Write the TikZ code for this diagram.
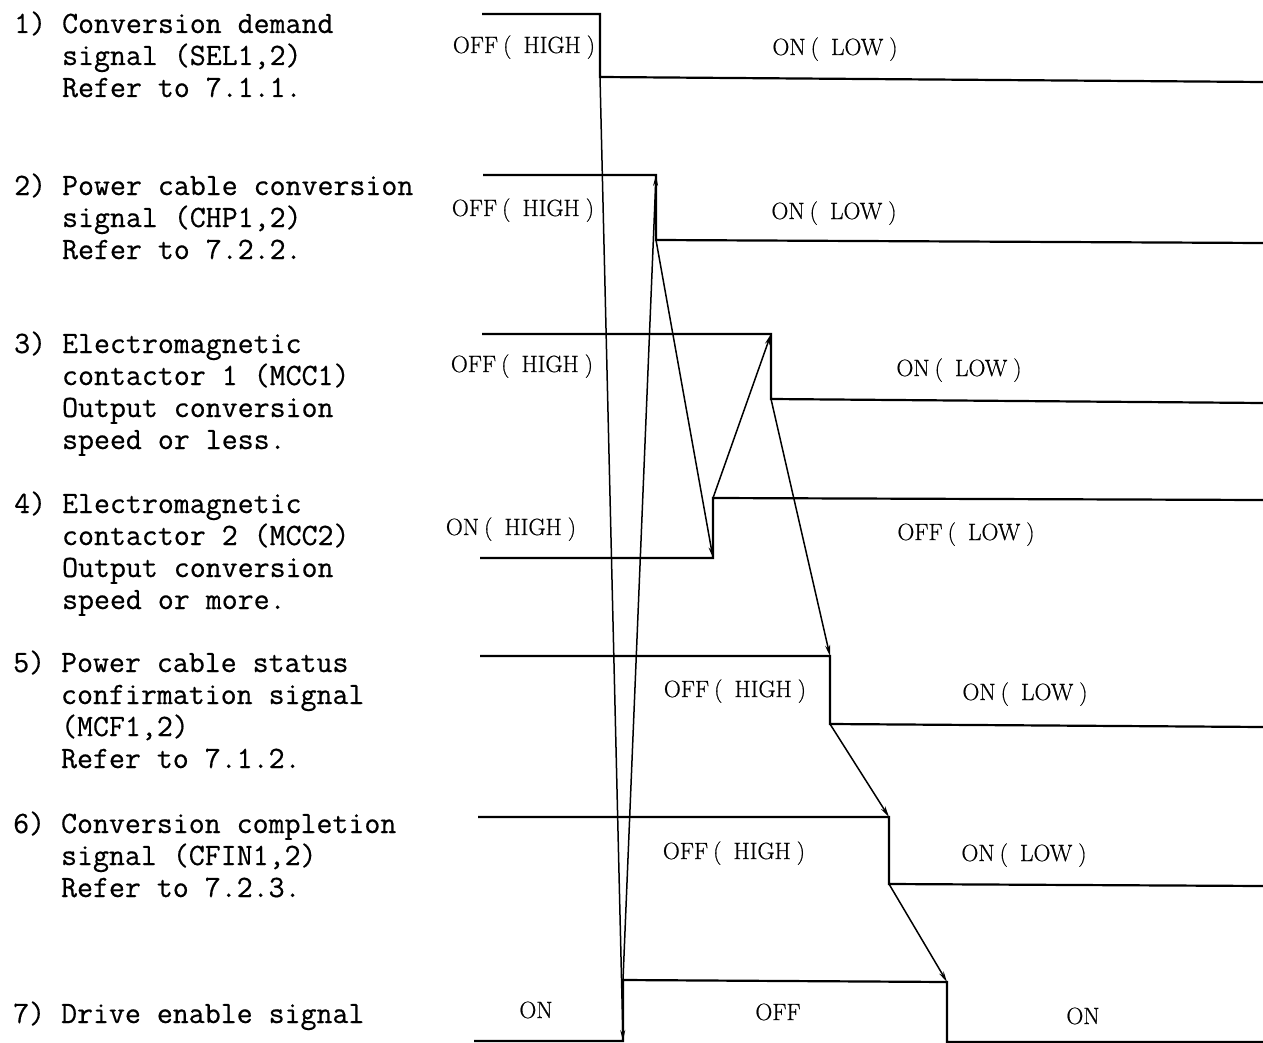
\documentclass[tikz,border=0pt]{standalone}
\usepackage{fontspec}
\usetikzlibrary{arrows.meta}
\newfontfamily\lbfont[FakeBold=0.6]{Latin Modern Roman}
\newfontfamily\twfont[FakeBold=0.5]{Latin Modern Mono}
\newcommand\LPx{\hspace{5pt}(\hspace{12pt}}
\newcommand\RPx{\hspace{6pt})}
\tikzset{
  wave/.style={line width=2.2pt, line join=miter, line cap=butt},
  cause/.style={line width=1.5pt, -{Stealth[length=11pt,width=5pt]}},
  desc/.style={anchor=base west, inner sep=0pt, align=left, font=\twfont\fontsize{31}{32}\selectfont},
  lab/.style={anchor=base, inner sep=0pt, font=\lbfont\fontsize{23.5}{28}\selectfont}
}
\begin{document}
\begin{tikzpicture}[x=1pt,y=-1pt]
\useasboundingbox (0,0) rectangle (1263,1043);
% ---------- descriptions (anchored at the baseline of the last line) ----------
\node[desc] (d1) at (14,97) {1) Conversion demand\\\hphantom{1) }signal (SEL1,2)\\\hphantom{1) }Refer to 7.1.1.};
\node[desc] (d2) at (14,259) {2) Power cable conversion\\\hphantom{1) }signal (CHP1,2)\\\hphantom{1) }Refer to 7.2.2.};
\node[desc] (d3) at (14,449) {3) Electromagnetic\\\hphantom{1) }contactor 1 (MCC1)\\\hphantom{1) }Output conversion\\\hphantom{1) }speed or less.};
\node[desc] (d4) at (14,609) {4) Electromagnetic\\\hphantom{1) }contactor 2 (MCC2)\\\hphantom{1) }Output conversion\\\hphantom{1) }speed or more.};
\node[desc] (d5) at (13,768) {5) Power cable status\\\hphantom{1) }confirmation signal\\\hphantom{1) }(MCF1,2)\\\hphantom{1) }Refer to 7.1.2.};
\node[desc] (d6) at (13,897) {6) Conversion completion\\\hphantom{1) }signal (CFIN1,2)\\\hphantom{1) }Refer to 7.2.3.};
\node[desc] (d7) at (13,1023) {7) Drive enable signal};
% ---------- waveform corners ----------
\coordinate (sel0) at (482,14);  \coordinate (sel1) at (600,14);
\coordinate (sel2) at (600,77);  \coordinate (sel3) at (1263,82);
\coordinate (chp0) at (483,175); \coordinate (chp1) at (656,175);
\coordinate (chp2) at (656,240); \coordinate (chp3) at (1263,243);
\coordinate (ma0) at (482,334);  \coordinate (ma1) at (771,334);
\coordinate (ma2) at (771,399);  \coordinate (ma3) at (1263,403);
\coordinate (mb0) at (480,558);  \coordinate (mb1) at (713,558);
\coordinate (mb2) at (713,498);  \coordinate (mb3) at (1263,500);
\coordinate (mcf0) at (480,656); \coordinate (mcf1) at (830,656);
\coordinate (mcf2) at (830,724); \coordinate (mcf3) at (1263,727);
\coordinate (cf0) at (478,817);  \coordinate (cf1) at (889,817);
\coordinate (cf2) at (889,884);  \coordinate (cf3) at (1263,886);
\coordinate (de0) at (474,1041); \coordinate (de1) at (623,1041);
\coordinate (de2) at (623,980);  \coordinate (de3) at (947,982);
\coordinate (de4) at (947,1042); \coordinate (de5) at (1263,1042);
% ---------- waveforms ----------
\draw[wave] (sel0) -- (sel1) -- (sel2) -- (sel3);
\draw[wave] (chp0) -- (chp1) -- (chp2) -- (chp3);
\draw[wave] (ma0) -- (ma1) -- (ma2) -- (ma3);
\draw[wave] (mb0) -- (mb1) -- (mb2) -- (mb3);
\draw[wave] (mcf0) -- (mcf1) -- (mcf2) -- (mcf3);
\draw[wave] (cf0) -- (cf1) -- (cf2) -- (cf3);
\draw[wave] (de0) -- (de1) -- (de2) -- (de3) -- (de4) -- (de5);
% ---------- labels ----------
\node[lab] (l1a) at (524,53) {OFF\LPx HIGH\RPx};
\node[lab] (l1b) at (835,55) {ON\LPx LOW\RPx};
\node[lab] (l2a) at (523,216) {OFF\LPx HIGH\RPx};
\node[lab] (l2b) at (834,219) {ON\LPx LOW\RPx};
\node[lab] (l3a) at (522,372) {OFF\LPx HIGH\RPx};
\node[lab] (l3b) at (959,376) {ON\LPx LOW\RPx};
\node[lab] (l4a) at (511,535) {ON\LPx HIGH\RPx};
\node[lab] (l4b) at (966,540) {OFF\LPx LOW\RPx};
\node[lab] (l5a) at (735,697) {OFF\LPx HIGH\RPx};
\node[lab] (l5b) at (1025,700) {ON\LPx LOW\RPx};
\node[lab] (l6a) at (734,859) {OFF\LPx HIGH\RPx};
\node[lab] (l6b) at (1024,861) {ON\LPx LOW\RPx};
\node[lab] (l7a) at (536,1018) {ON};
\node[lab] (l7b) at (778,1020) {OFF};
\node[lab] (l7c) at (1083,1024) {ON};
% ---------- cause / effect arrows ----------
\draw[cause] (sel2) -- (de1);
\draw[cause] (de2) -- (chp1);
\draw[cause] (chp2) -- (mb1);
\draw[cause] (mb2) -- (ma1);
\draw[cause] (ma2) -- (mcf1);
\draw[cause] (mcf2) -- (cf1);
\draw[cause] (cf2) -- (de3);
\end{tikzpicture}
\end{document}
